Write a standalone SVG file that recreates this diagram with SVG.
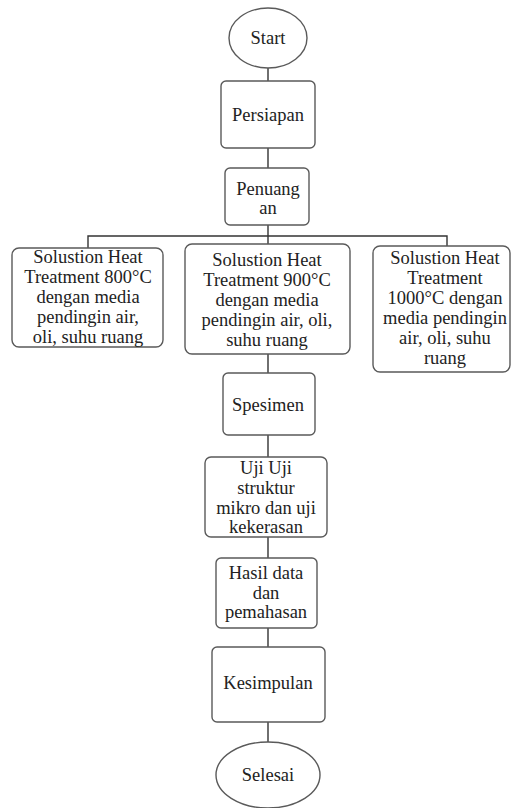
<svg xmlns="http://www.w3.org/2000/svg" width="511" height="808" viewBox="0 0 511 808">
<style>
.box{fill:#fff;stroke:#5a5a5a;stroke-width:1.4}
.ln{fill:none;stroke:#333;stroke-width:1.4}
text{font-family:"Liberation Serif","Times New Roman",serif;font-size:18.5px;fill:#222;text-anchor:middle}
</style>
<rect width="511" height="808" fill="#fff"/>
<g id="connectors">
<line class="ln" x1="268" y1="68" x2="268" y2="81"/>
<line class="ln" x1="268" y1="148" x2="268" y2="168"/>
<line class="ln" x1="268" y1="225" x2="268" y2="244"/>
<polyline class="ln" points="88,248 88,236 447,236 447,246"/>
<line class="ln" x1="268" y1="354" x2="268" y2="373"/>
<line class="ln" x1="268" y1="435" x2="268" y2="457"/>
<line class="ln" x1="268" y1="537" x2="268" y2="558"/>
<line class="ln" x1="268" y1="628" x2="268" y2="647"/>
<line class="ln" x1="268" y1="722" x2="268" y2="742"/>
</g>
<g id="start">
<ellipse class="box" cx="268" cy="38" rx="39" ry="30"/>
<text x="268" y="44">Start</text>
</g>
<g id="persiapan">
<rect class="box" x="221" y="81" width="94" height="67" rx="5"/>
<text x="268" y="121">Persiapan</text>
</g>
<g id="penuangan">
<rect class="box" x="225" y="168" width="84" height="57" rx="5"/>
<text x="268" y="195">Penuang</text>
<text x="268" y="214">an</text>
</g>
<g id="sht800">
<rect class="box" x="12" y="248" width="151" height="99" rx="7"/>
<text x="88" y="263">Solustion Heat</text>
<text x="88" y="283">Treatment 800°C</text>
<text x="88" y="303">dengan media</text>
<text x="88" y="323">pendingin air,</text>
<text x="88" y="343">oli, suhu ruang</text>
</g>
<g id="sht900">
<rect class="box" x="185" y="244" width="165" height="110" rx="7"/>
<text x="267" y="266">Solustion Heat</text>
<text x="267" y="286">Treatment 900°C</text>
<text x="267" y="306">dengan media</text>
<text x="267" y="326">pendingin air, oli,</text>
<text x="267" y="346">suhu ruang</text>
</g>
<g id="sht1000">
<rect class="box" x="373" y="246" width="137" height="126" rx="7"/>
<text x="445" y="264">Solustion Heat</text>
<text x="445" y="284">Treatment</text>
<text x="445" y="304">1000°C dengan</text>
<text x="445" y="324">media pendingin</text>
<text x="445" y="344">air, oli, suhu</text>
<text x="445" y="364">ruang</text>
</g>
<g id="spesimen">
<rect class="box" x="223" y="373" width="92" height="62" rx="5"/>
<text x="268" y="411">Spesimen</text>
</g>
<g id="uji">
<rect class="box" x="205" y="457" width="122" height="80" rx="6"/>
<text x="266" y="474">Uji Uji</text>
<text x="266" y="494">struktur</text>
<text x="266" y="514">mikro dan uji</text>
<text x="266" y="533">kekerasan</text>
</g>
<g id="hasil">
<rect class="box" x="216" y="558" width="101" height="70" rx="5"/>
<text x="266" y="579">Hasil data</text>
<text x="266" y="599">dan</text>
<text x="266" y="618">pemahasan</text>
</g>
<g id="kesimpulan">
<rect class="box" x="212" y="647" width="113" height="75" rx="5"/>
<text x="268" y="689">Kesimpulan</text>
</g>
<g id="selesai">
<ellipse class="box" cx="268" cy="775" rx="52" ry="33"/>
<text x="268" y="781">Selesai</text>
</g>
</svg>
